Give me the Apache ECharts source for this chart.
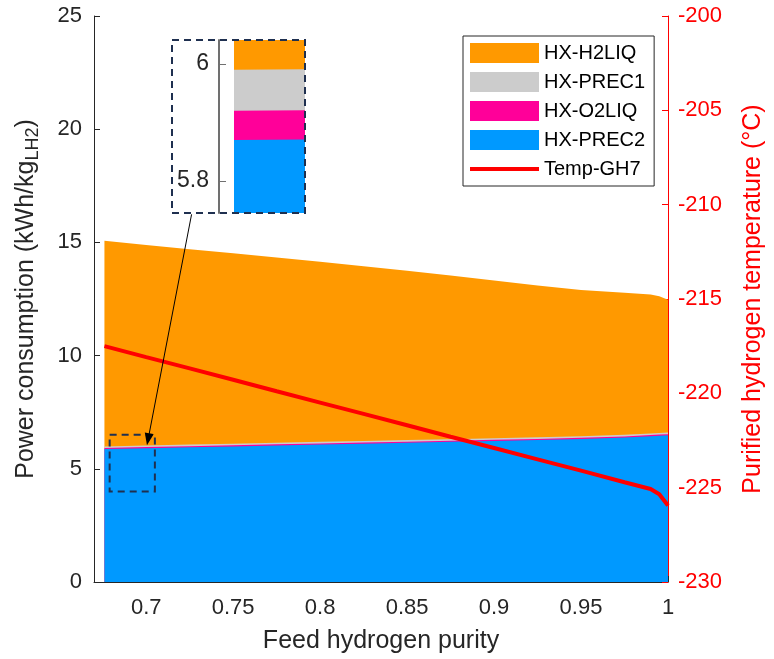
<!DOCTYPE html>
<html>
<head>
<meta charset="utf-8">
<script src="https://cdn.jsdelivr.net/npm/echarts@6/dist/echarts.min.js"></script>
<style>
  html, body { margin: 0; padding: 0; background: #fff; }
  #myChart { width: 774px; height: 659px; }
</style>
</head>
<body>
<div id="myChart"></div>
<script>
  // feed hydrogen purity (x)
  var purity = [0.676, 0.70, 0.725, 0.75, 0.775, 0.80, 0.825, 0.85, 0.875, 0.90, 0.925, 0.95, 0.975, 0.99, 0.995, 1.0];
  // power consumption per exchanger, kWh/kg_LH2 (stacked bottom to top: PREC2, O2LIQ, PREC1, H2LIQ)
  var hxPrec2 = [5.87, 5.91, 5.95, 5.99, 6.03, 6.07, 6.11, 6.15, 6.19, 6.23, 6.27, 6.32, 6.38, 6.44, 6.46, 6.48];
  var hxO2liq = [0.05, 0.05, 0.05, 0.05, 0.05, 0.05, 0.05, 0.05, 0.05, 0.05, 0.05, 0.05, 0.05, 0.05, 0.05, 0.05];
  var hxPrec1 = [0.07, 0.07, 0.07, 0.07, 0.07, 0.07, 0.07, 0.07, 0.07, 0.07, 0.07, 0.07, 0.07, 0.07, 0.07, 0.07];
  var hxH2liq = [9.08, 8.86, 8.63, 8.41, 8.18, 7.95, 7.72, 7.48, 7.23, 6.97, 6.71, 6.46, 6.28, 6.14, 6.04, 5.87];
  // purified hydrogen temperature, °C
  var tempGH7 = [-217.5, -218.08, -218.68, -219.28, -219.89, -220.49, -221.09, -221.69, -222.3, -222.9, -223.5, -224.1, -224.71, -225.07, -225.35, -225.95];

  var xTicks = [0.7, 0.75, 0.8, 0.85, 0.9, 0.95, 1];
  var insetTicks = [5.8, 6];
  // zoomed region shown in the inset and the arrow pointing at it (data coords)
  var zoomBox = [[0.679, 6.5], [0.705, 4.0]];
  var arrowLine = [[0.7261, 16.24], [0.7011, 6.3]];

  var FONT = 'Arial, "Liberation Sans", Helvetica, sans-serif';
  var DARK = '#262626';

  // cumulative tops of the stack
  function addArr(a, b) {
    return a.map(function (v, i) { return +(v + b[i]).toFixed(4); });
  }
  var topPrec2 = hxPrec2;
  var topO2liq = addArr(topPrec2, hxO2liq);
  var topPrec1 = addArr(topO2liq, hxPrec1);
  var topH2liq = addArr(topPrec1, hxH2liq);

  function xy(ys) {
    return purity.map(function (x, i) { return [x, ys[i]]; });
  }

  // each layer is filled down to the axis; drawn top layer first so lower ones paint over
  function areaSeries(name, ys, color, xIdx, yIdx) {
    return {
      name: name,
      type: 'line',
      xAxisIndex: xIdx,
      yAxisIndex: yIdx,
      symbol: 'none',
      animation: false,
      silent: true,
      itemStyle: { color: color },
      lineStyle: { width: 0, color: color },
      areaStyle: { color: color, opacity: 1, origin: 'start' },
      data: xy(ys)
    };
  }

  function drawChart() {
    var myChart = echarts.init(document.getElementById('myChart'));
    // inset x range: a sliver right at the first point, leaving a gap before the axis
    var insetMax = 0.6765;
    var insetMin = purity[0] - (insetMax - purity[0]) * 15 / 71;

    myChart.setOption({
      animation: false,
      textStyle: { fontFamily: FONT },
      grid: [
        { left: 94, right: 99, top: 16, bottom: 75 },
        { left: 219, top: 40, width: 86, height: 173 }
      ],
      legend: {
        orient: 'vertical',
        left: 463,
        top: 36,
        padding: [7, 9, 7, 7],
        itemWidth: 69,
        itemHeight: 20,
        itemGap: 9,
        backgroundColor: '#fff',
        borderColor: DARK,
        borderWidth: 1,
        selectedMode: false,
        symbolKeepAspect: true,
        textStyle: { fontSize: 20, color: '#000', lineHeight: 20, fontFamily: FONT },
        data: [
          { name: 'HX-H2LIQ', icon: 'rect' },
          { name: 'HX-PREC1', icon: 'rect' },
          { name: 'HX-O2LIQ', icon: 'rect' },
          { name: 'HX-PREC2', icon: 'rect' },
          { name: 'Temp-GH7', icon: 'path://M0,0 L69,0 L69,4 L0,4 Z' }
        ]
      },
      xAxis: [
        {
          gridIndex: 0,
          type: 'value',
          min: 0.67,
          max: 1,
          name: 'Feed hydrogen purity',
          nameLocation: 'middle',
          nameGap: 47,
          nameTextStyle: { fontSize: 25, color: DARK, fontFamily: FONT },
          axisLine: { show: true, onZero: false, lineStyle: { color: DARK, width: 1 } },
          axisTick: { show: true, inside: true, length: 6, customValues: xTicks, lineStyle: { color: DARK } },
          axisLabel: { customValues: xTicks, fontSize: 22, color: DARK, margin: 15, fontFamily: FONT },
          splitLine: { show: false }
        },
        {
          gridIndex: 1,
          type: 'value',
          min: insetMin,
          max: insetMax,
          axisLine: { show: false },
          axisTick: { show: false },
          axisLabel: { show: false },
          splitLine: { show: false }
        }
      ],
      yAxis: [
        {
          gridIndex: 0,
          type: 'value',
          position: 'left',
          min: 0,
          max: 25,
          interval: 5,
          name: '{a|Power consumption (kWh/kg}{sub|LH2}{a|)}',
          nameLocation: 'middle',
          nameGap: 52,
          nameTextStyle: {
            color: DARK,
            fontFamily: FONT,
            rich: {
              a: { fontSize: 25, color: DARK, fontFamily: FONT },
              sub: { fontSize: 18, color: DARK, fontFamily: FONT, padding: [13, 0, 0, 0] }
            }
          },
          axisLine: { show: true, lineStyle: { color: DARK, width: 1 } },
          axisTick: { show: true, inside: true, length: 6, lineStyle: { color: DARK } },
          axisLabel: { fontSize: 22, color: DARK, margin: 12, fontFamily: FONT },
          splitLine: { show: false }
        },
        {
          gridIndex: 0,
          type: 'value',
          position: 'right',
          min: -230,
          max: -200,
          interval: 5,
          name: 'Purified hydrogen temperature (°C)',
          nameLocation: 'middle',
          nameGap: 73,
          nameTextStyle: { fontSize: 25, color: '#ff0000', fontFamily: FONT },
          axisLine: { show: true, lineStyle: { color: '#ff0000', width: 1 } },
          axisTick: { show: true, inside: true, length: 6, lineStyle: { color: '#ff0000' } },
          axisLabel: { fontSize: 22, color: '#ff0000', margin: 10, fontFamily: FONT },
          splitLine: { show: false }
        },
        {
          gridIndex: 1,
          type: 'value',
          min: 5.745,
          max: 6.041,
          axisLine: { show: true, lineStyle: { color: '#707070', width: 2 } },
          axisTick: { show: true, inside: true, length: 7, customValues: insetTicks, lineStyle: { color: '#707070' } },
          axisLabel: { customValues: insetTicks, fontSize: 23, color: DARK, margin: 10, fontFamily: FONT },
          splitLine: { show: false }
        }
      ],
      graphic: [
        {
          type: 'rect',
          z: 100,
          silent: true,
          shape: { x: 172, y: 40, width: 133, height: 173 },
          style: { fill: 'none', stroke: '#1f3050', lineWidth: 2, lineDash: [7, 5] }
        }
      ],
      series: [
        areaSeries('HX-H2LIQ', topH2liq, '#ff9900', 0, 0),
        areaSeries('HX-PREC1', topPrec1, '#cccccc', 0, 0),
        areaSeries('HX-O2LIQ', topO2liq, '#ff0099', 0, 0),
        areaSeries('HX-PREC2', topPrec2, '#0099ff', 0, 0),
        areaSeries('HX-H2LIQ', topH2liq, '#ff9900', 1, 2),
        areaSeries('HX-PREC1', topPrec1, '#cccccc', 1, 2),
        areaSeries('HX-O2LIQ', topO2liq, '#ff0099', 1, 2),
        areaSeries('HX-PREC2', topPrec2, '#0099ff', 1, 2),
        {
          name: 'Temp-GH7',
          type: 'line',
          xAxisIndex: 0,
          yAxisIndex: 1,
          symbol: 'none',
          silent: true,
          z: 5,
          itemStyle: { color: '#ff0000' },
          lineStyle: { color: '#ff0000', width: 4 },
          data: xy(tempGH7)
        },
        {
          // zoom box and arrow annotations
          name: 'annot',
          type: 'line',
          xAxisIndex: 0,
          yAxisIndex: 0,
          z: 10,
          silent: true,
          data: [],
          markArea: {
            z: 10,
            silent: true,
            label: { show: false },
            itemStyle: { color: 'rgba(0,0,0,0)', borderColor: '#1f3050', borderWidth: 2, borderType: [7, 5] },
            data: [[{ coord: zoomBox[0] }, { coord: zoomBox[1] }]]
          },
          markLine: {
            z: 10,
            silent: true,
            symbol: ['none', 'triangle'],
            symbolSize: [9, 12],
            label: { show: false },
            lineStyle: { color: '#000', width: 1, type: 'solid' },
            data: [[{ coord: arrowLine[0] }, { coord: arrowLine[1] }]]
          }
        }
      ]
    });
  }

  drawChart();
</script>
</body>
</html>
